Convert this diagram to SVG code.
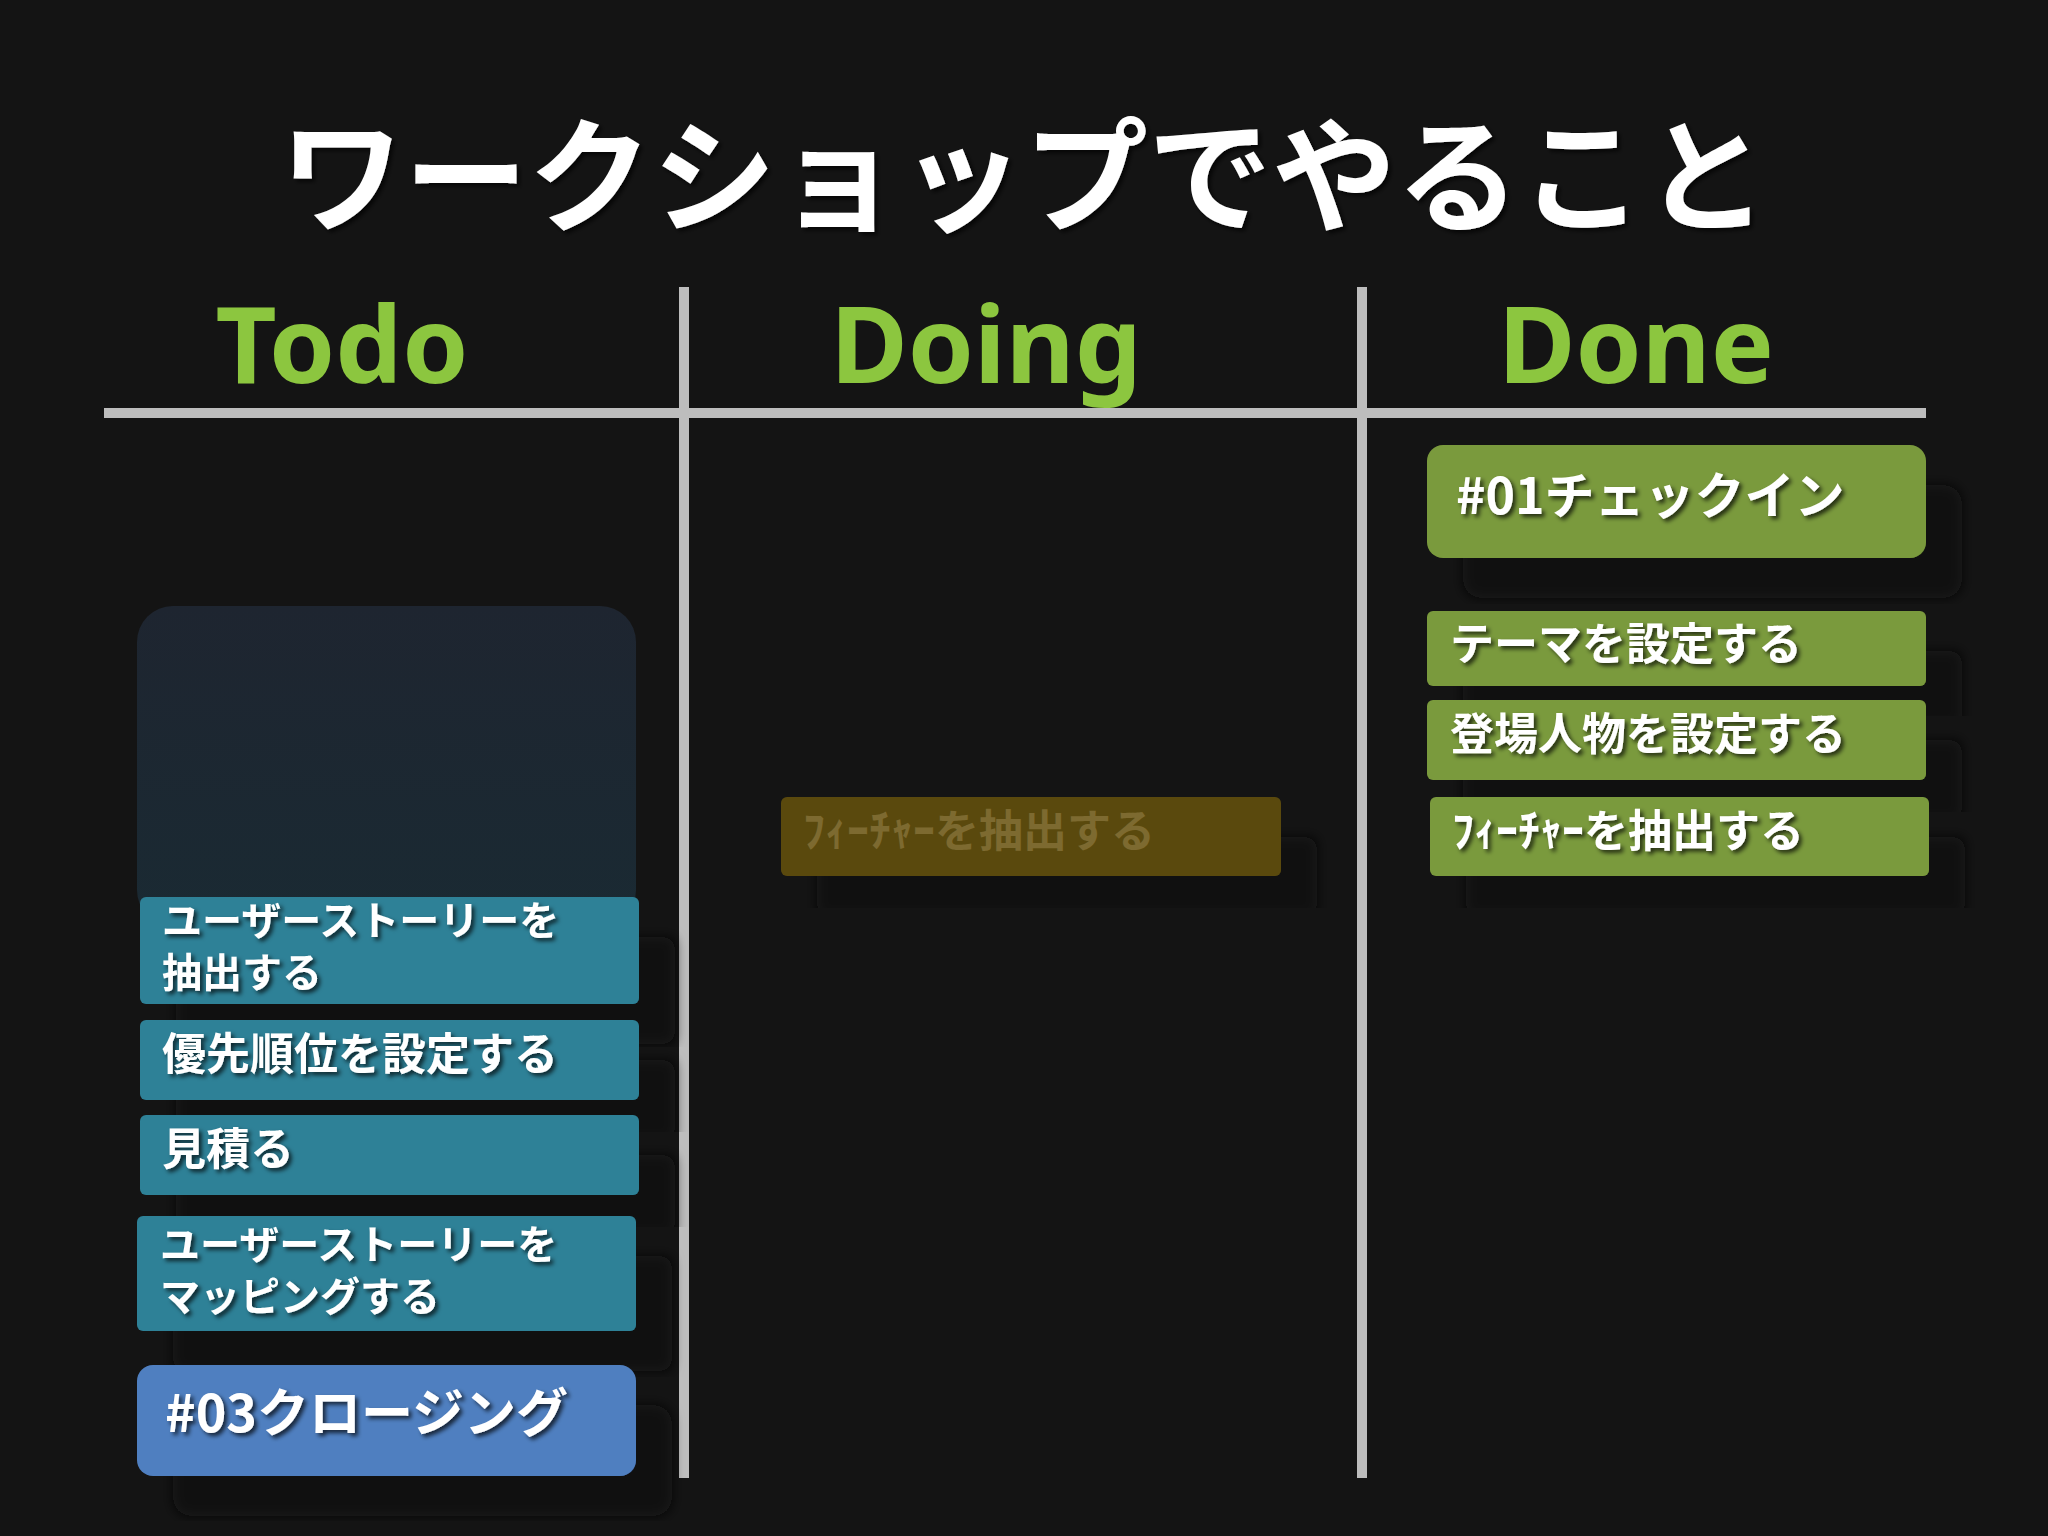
<svg xmlns="http://www.w3.org/2000/svg" width="2048" height="1536" viewBox="0 0 2048 1536">
<defs>
<filter id="sh" x="-20%" y="-20%" width="150%" height="160%"><feDropShadow dx="36" dy="40" stdDeviation="6" flood-color="#0a0a0a" flood-opacity="0.8"/></filter>
<filter id="ts" x="-5%" y="-20%" width="110%" height="150%"><feDropShadow dx="3" dy="3" stdDeviation="2" flood-color="#000" flood-opacity="0.7"/></filter>
<linearGradient id="fade" x1="0" y1="0" x2="0" y2="1"><stop offset="0" stop-color="#1e2530"/><stop offset="1" stop-color="#1a2a33"/></linearGradient>
</defs>
<style>
text{font-family:"Noto Sans CJK JP","Noto Sans",sans-serif;font-weight:bold;fill:#fff}
.h{fill:#8cc63f;font-family:"Noto Sans","DejaVu Sans",sans-serif;font-size:106px}
.c{font-size:44px}
.s{font-size:40px}
.line{stroke:#bdbdbd;stroke-width:10}
.g{fill:#7a9a3c}
.t{fill:#2e8197}
</style>
<rect width="2048" height="1536" fill="#141414"/>
<text x="1024" y="222" text-anchor="middle" font-size="124" filter="url(#ts)">ワークショップでやること</text>
<g id="headers">
<text class="h" x="342" y="383" text-anchor="middle">Todo</text>
<text class="h" x="986" y="383" text-anchor="middle">Doing</text>
<text class="h" x="1636" y="383" text-anchor="middle">Done</text>
</g>
<g id="lines">
<line class="line" x1="104" y1="413" x2="1926" y2="413"/>
<line class="line" x1="684" y1="287" x2="684" y2="1478"/>
<line class="line" x1="1362" y1="287" x2="1362" y2="1478"/>
</g>
<g id="done">
<rect class="g" x="1427" y="445" width="499" height="113" rx="16" filter="url(#sh)"/>
<text x="1456" y="514" font-size="50" filter="url(#ts)">#01チェックイン</text>
<rect class="g" x="1427" y="611" width="499" height="75" rx="6" filter="url(#sh)"/>
<text class="c" x="1450" y="660" filter="url(#ts)">テーマを設定する</text>
<rect class="g" x="1427" y="700" width="499" height="80" rx="6" filter="url(#sh)"/>
<text class="c" x="1450" y="750" filter="url(#ts)">登場人物を設定する</text>
<rect class="g" x="1430" y="797" width="499" height="79" rx="6" filter="url(#sh)"/>
<text class="c" x="1452" y="847" filter="url(#ts)">ﾌｨｰﾁｬｰを抽出する</text>
</g>
<g id="doing">
<rect x="781" y="797" width="500" height="79" rx="6" fill="#5a4a10" filter="url(#sh)"/>
<text class="c" x="803" y="847" style="fill:#7d6a30">ﾌｨｰﾁｬｰを抽出する</text>
</g>
<g id="todo">
<rect x="137" y="606" width="499" height="320" rx="36" fill="url(#fade)"/>
<rect class="t" x="140" y="897" width="499" height="107" rx="6" filter="url(#sh)"/>
<text class="s" x="162" y="935" filter="url(#ts)">ユーザーストーリーを</text>
<text class="s" x="162" y="987" filter="url(#ts)">抽出する</text>
<rect class="t" x="140" y="1020" width="499" height="80" rx="6" filter="url(#sh)"/>
<text class="c" x="162" y="1070" filter="url(#ts)">優先順位を設定する</text>
<rect class="t" x="140" y="1115" width="499" height="80" rx="6" filter="url(#sh)"/>
<text class="c" x="162" y="1165" filter="url(#ts)">見積る</text>
<rect class="t" x="137" y="1216" width="499" height="115" rx="6" filter="url(#sh)"/>
<text class="s" x="160" y="1259" filter="url(#ts)">ユーザーストーリーを</text>
<text class="s" x="160" y="1311" filter="url(#ts)">マッピングする</text>
<rect x="137" y="1365" width="499" height="111" rx="16" fill="#4f7fc0" filter="url(#sh)"/>
<text x="165" y="1432" font-size="52" filter="url(#ts)">#03クロージング</text>
</g>
</svg>
